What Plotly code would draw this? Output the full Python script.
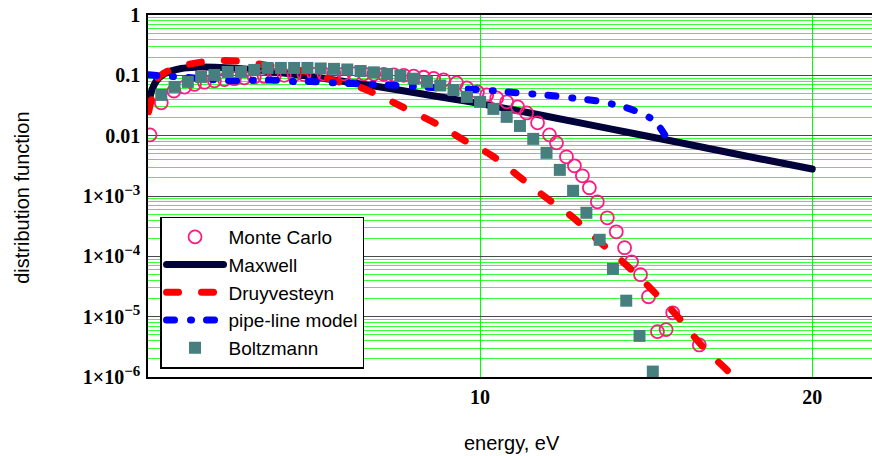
import plotly.graph_objects as go

# ---------------- data ----------------
mc_E = [0.06, 0.4, 0.78, 1.1, 1.4, 1.7, 2.0, 2.3, 2.6, 2.9, 3.2, 3.5, 3.8, 4.1, 4.4, 4.7,
        5.0, 5.3, 5.6, 5.9, 6.2, 6.5, 6.8, 7.1, 7.4, 7.7, 8.0, 8.3, 8.6, 8.9, 9.29, 9.6,
        9.92, 10.2, 10.5, 10.8, 11.13, 11.4, 11.73, 12.09, 12.3, 12.6, 12.84, 13.08, 13.29,
        13.53, 13.83, 14.1, 14.35, 14.56, 14.83, 15.07, 15.34, 15.6, 15.8, 16.6]
mc_f = [0.0103, 0.035, 0.055, 0.064, 0.071, 0.077, 0.081, 0.085, 0.088, 0.091, 0.094, 0.096,
        0.098, 0.100, 0.102, 0.103, 0.104, 0.105, 0.106, 0.106, 0.106, 0.106, 0.105, 0.104,
        0.102, 0.100, 0.097, 0.093, 0.089, 0.084, 0.0748, 0.0618, 0.0531, 0.0473, 0.0422,
        0.0363, 0.030, 0.0238, 0.0163, 0.0103, 0.0076, 0.00446, 0.00316, 0.00216, 0.00137,
        0.0008, 0.000435, 0.000255, 0.000139, 8.1e-5, 4.96e-5, 2.14e-5, 5.65e-6, 6.1e-6,
        1.16e-5, 3.4e-6]

mx_E = [0.02, 0.05, 0.1, 0.25, 0.5, 1, 1.5, 2, 3, 4, 5, 6, 7, 8, 9, 10, 12, 14, 16, 18, 20]
mx_f = [0.03, 0.040, 0.053, 0.080, 0.106, 0.130, 0.137, 0.136, 0.126, 0.110, 0.094, 0.078,
        0.064, 0.052, 0.042, 0.034, 0.021, 0.0127, 0.0077, 0.0046, 0.0028]

dr_E = [0.02, 0.15, 0.3, 0.6, 0.9, 1.3, 1.7, 2.2, 2.7, 3.2, 3.8, 4.4, 5.0, 5.6, 6.4, 7.15,
        7.95, 8.8, 9.55, 10.35, 11.15, 11.95, 12.8, 13.6, 14.4, 15.2, 16.0, 16.7, 17.5, 17.9]
dr_f = [0.025, 0.05, 0.09, 0.118, 0.138, 0.155, 0.168, 0.176, 0.172, 0.158, 0.14, 0.125,
        0.108, 0.082, 0.063, 0.041, 0.025, 0.0145, 0.0082, 0.0047, 0.00215, 0.00097, 0.00044,
        0.000174, 7.2e-5, 2.7e-5, 9.3e-6, 3.2e-6, 1.2e-6, 7e-7]

pl_E = [0.02, 0.5, 1.0, 1.6, 2.6, 3.2, 3.8, 4.4, 4.9, 5.6, 6.2, 6.8, 7.3, 8.1, 8.8, 9.7,
        10.5, 11.2, 12.0, 12.8, 13.6, 14.1, 14.6, 15.2, 15.55, 15.7]
pl_f = [0.102, 0.097, 0.094, 0.088, 0.081, 0.083, 0.083, 0.079, 0.079, 0.075, 0.073, 0.071,
        0.069, 0.065, 0.062, 0.059, 0.055, 0.051, 0.047, 0.042, 0.037, 0.032, 0.0267, 0.0183,
        0.0105, 0.0070]

bz_E = [0.4, 0.8, 1.2, 1.6, 2.0, 2.4, 2.8, 3.2, 3.6, 4.0, 4.4, 4.8, 5.2, 5.6, 6.0, 6.4, 6.8,
        7.2, 7.6, 8.0, 8.4, 8.8, 9.2, 9.6, 10.0, 10.4, 10.8, 11.2, 11.6, 12.0, 12.4, 12.8,
        13.2, 13.6, 14.0, 14.4, 14.8, 15.2]
bz_f = [0.0474, 0.0643, 0.0778, 0.0941, 0.1015, 0.1138, 0.1138, 0.1228, 0.1326, 0.1326,
        0.1326, 0.1326, 0.130, 0.128, 0.125, 0.118, 0.112, 0.105, 0.098, 0.088, 0.078, 0.068,
        0.057, 0.0439, 0.0363, 0.0278, 0.0205, 0.0145, 0.00885, 0.00519, 0.00271, 0.00122,
        0.000527, 0.000188, 6.2e-5, 1.84e-5, 4.8e-6, 1.23e-6]

x_ticks = [10, 20]
x_ticktext = ["<b>10</b>", "<b>20</b>"]
y_ticks = [1, 0.1, 0.01, 1e-3, 1e-4, 1e-5, 1e-6]
y_exponents = ["−3", "−4", "−5", "−6"]
y_ticktext = ["<b>1</b>", "<b>0.1</b>", "<b>0.01</b>"] + [
    "<b>1×10<sup><span style='font-size:15px'>%s</span></sup></b>" % e for e in y_exponents]
y_minor = [k * 10.0 ** n for n in range(-6, 0) for k in range(2, 10)]

# ---------------- figure ----------------
fig = go.Figure()
fig.add_trace(go.Scatter(x=mx_E, y=mx_f, mode="lines", name="Maxwell", legendrank=2,
                         line=dict(color="#02023a", width=7, shape="spline")))
fig.add_trace(go.Scatter(x=mc_E, y=mc_f, mode="markers", name="Monte Carlo", legendrank=1,
                         marker=dict(symbol="circle-open", size=13, color="#ff1a80",
                                     line=dict(width=1.8, color="#ff1a80"))))
fig.add_trace(go.Scatter(x=dr_E, y=dr_f, mode="lines", name="Druyvesteyn", legendrank=3,
                         line=dict(color="#ff0000", width=7, shape="spline", dash="12px,23px")))
fig.add_trace(go.Scatter(x=pl_E, y=pl_f, mode="lines", name="pipe-line model", legendrank=4,
                         line=dict(color="#0000ff", width=7, shape="spline",
                                   dash="8px,16px,1px,15px")))
fig.add_trace(go.Scatter(x=bz_E, y=bz_f, mode="markers", name="Boltzmann", legendrank=5,
                         marker=dict(symbol="square", size=12, color="#477f7f",
                                     line=dict(width=0))))

fig.update_layout(
    width=872, height=456,
    margin=dict(l=148, r=0, t=15, b=79),
    paper_bgcolor="white", plot_bgcolor="white",
    showlegend=True,
    legend=dict(x=0.0166, y=0.2334, xanchor="left", yanchor="middle",
                bgcolor="white", bordercolor="black", borderwidth=1.5,
                font=dict(family="Liberation Sans", size=19, color="black"),
                itemwidth=57, tracegroupgap=0, entrywidth=215, entrywidthmode="pixels"),
    xaxis=dict(range=[0, 21.8], tickmode="array", tickvals=x_ticks, ticktext=x_ticktext,
               showgrid=True, gridcolor="#00ff00", gridwidth=1, zeroline=False,
               showline=True, linecolor="black", linewidth=2, mirror=True, ticks="",
               tickfont=dict(family="Liberation Serif", size=20, color="black"),
               ticklabelstandoff=1),
    yaxis=dict(type="log", range=[-6, 0], tickmode="array", tickvals=y_ticks,
               ticktext=y_ticktext, showgrid=True, gridcolor="#4a4a4a", gridwidth=1.3,
               zeroline=False, showline=True, linecolor="black", linewidth=1.5, ticks="",
               tickfont=dict(family="Liberation Serif", size=20, color="black"),
               ticklabelstandoff=2,
               minor=dict(tickmode="array", tickvals=y_minor, showgrid=True,
                          gridcolor="#3cff3c", gridwidth=1, ticks="")),
    annotations=[
        dict(text="distribution function", xref="paper", yref="paper",
             x=(22 - 148) / 724, y=0.495, xanchor="center", yanchor="middle",
             textangle=-90, showarrow=False,
             font=dict(family="Liberation Sans", size=20, color="black")),
        dict(text="energy, eV", xref="paper", yref="paper",
             x=0.503, y=(377 - 443) / 362, xanchor="center", yanchor="middle",
             showarrow=False,
             font=dict(family="Liberation Sans", size=20, color="black")),
    ],
)

post = """
var gd = document.getElementById('{plot_id}');
function rc(){ document.querySelectorAll('path.js-line').forEach(function(p){
  p.style.strokeLinecap='round'; p.style.strokeLinejoin='round'; }); }
rc(); setTimeout(rc, 50); setTimeout(rc, 300);
if (gd && gd.on) { gd.on('plotly_afterplot', rc); }
"""
fig.write_html("out.html", post_script=post)
